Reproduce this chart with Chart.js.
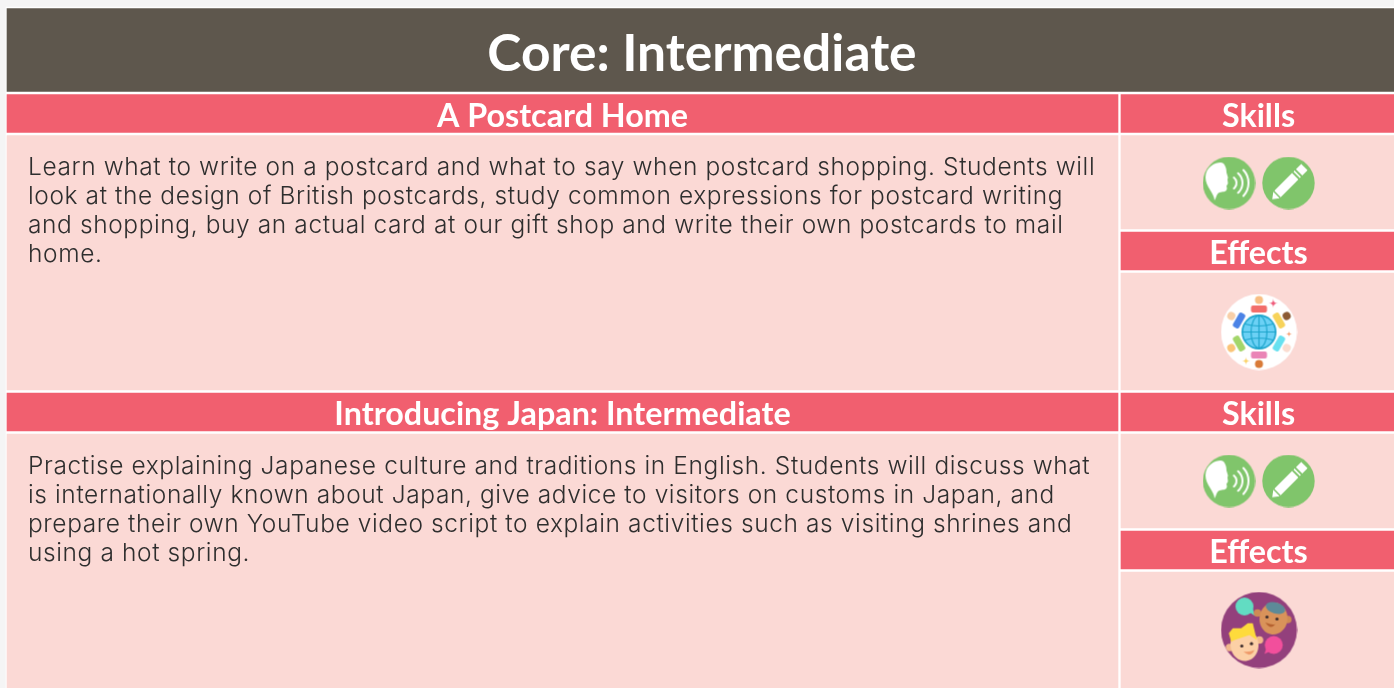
<!DOCTYPE html>
<html>
<head>
<meta charset="utf-8">
<title>Core: Intermediate</title>
<script src="https://cdn.jsdelivr.net/npm/chart.js@4/dist/chart.umd.min.js"></script>
<style>
    html, body { margin: 0; padding: 0; background: #f5f5f5; overflow: hidden; }
    #wrap { width: 1394px; height: 688px; }
</style>
</head>
<body>
<div id="wrap"><canvas id="board"></canvas></div>
<script>
/* ==================== Table content ==================== */
const pageTitle = 'Core: Intermediate';
const courseTitles = ['A Postcard Home', 'Introducing Japan: Intermediate'];
const sideTitles = ['Skills', 'Effects'];
const courseOneLines = [
    'Learn what to write on a postcard and what to say when postcard shopping. Students will',
    'look at the design of British postcards, study common expressions for postcard writing',
    'and shopping, buy an actual card at our gift shop and write their own postcards to mail',
    'home.'
];
const courseTwoLines = [
    'Practise explaining Japanese culture and traditions in English. Students will discuss what',
    'is internationally known about Japan, give advice to visitors on customs in Japan, and',
    'prepare their own YouTube video script to explain activities such as visiting shrines and',
    'using a hot spring.'
];

/* ==================== Layout (in page pixels) ==================== */
const COLORS = { title: '#5e574d', header: '#f15f6f', body: '#fbd9d5', green: '#80c56b', text: '#2e2e2e' };
const gridBand = [[7, 688]];
const titleBand = [[8.5, 91.5]];
const mainHeaderBands = [[94.5, 132.5], [393, 431]];
const mainBodyBands = [[135.5, 390], [434, 688]];
const sideHeaderBands = [[94.5, 132.5], [232, 270], [393, 431], [531, 569]];
const sideBodyBands = [[135.5, 229], [273, 390], [434, 528], [572, 688]];
const GRID_COL = { left: 6, right: 1394 };
const MAIN_COL = { left: 7, right: 1118 };
const SIDE_COL = { left: 1121, right: 1394 };
const FULL_COL = { left: 7, right: 1394 };

function bandDataset(bands, col, color, order = 2) {
    return {
        type: 'bar',
        data: bands.map(b => ({ x: (col.left + col.right) / 2, y: b })),
        backgroundColor: color,
        borderWidth: 0,
        grouped: false,
        barThickness: col.right - col.left,
        order: order
    };
}

/* ==================== Icons ==================== */
function makeCanvas(size, draw) {
    const c = document.createElement('canvas');
    c.width = size;
    c.height = size;
    const ctx = c.getContext('2d');
    ctx.lineCap = 'round';
    draw(ctx, size);
    return c;
}

function disc(ctx, x, y, r, color) {
    ctx.fillStyle = color;
    ctx.beginPath();
    ctx.arc(x, y, r, 0, Math.PI * 2);
    ctx.fill();
}

function sparkle(ctx, x, y, r, color) {
    ctx.fillStyle = color;
    ctx.beginPath();
    ctx.moveTo(x, y - r);
    ctx.quadraticCurveTo(x, y, x + r, y);
    ctx.quadraticCurveTo(x, y, x, y + r);
    ctx.quadraticCurveTo(x, y, x - r, y);
    ctx.quadraticCurveTo(x, y, x, y - r);
    ctx.fill();
}

function polygon(ctx, pts, color) {
    ctx.fillStyle = color;
    ctx.beginPath();
    pts.forEach((p, i) => (i ? ctx.lineTo(p[0], p[1]) : ctx.moveTo(p[0], p[1])));
    ctx.closePath();
    ctx.fill();
}

function speakIcon() {
    return makeCanvas(53, ctx => {
        disc(ctx, 26.5, 26.5, 26.2, COLORS.green);
        // head in profile
        ctx.fillStyle = '#fff';
        ctx.beginPath();
        ctx.moveTo(12, 44);
        ctx.bezierCurveTo(12, 37, 3, 30, 3, 21);
        ctx.bezierCurveTo(3, 10, 13, 6, 18, 6);
        ctx.bezierCurveTo(22, 6, 24, 11, 24, 16);
        ctx.lineTo(25.5, 21);
        ctx.lineTo(25, 23);
        ctx.lineTo(25.5, 27);
        ctx.lineTo(24, 29.5);
        ctx.lineTo(24.5, 32);
        ctx.bezierCurveTo(24, 36, 20, 35, 17, 36);
        ctx.bezierCurveTo(14, 37, 14, 41, 12, 44);
        ctx.fill();
        // sound waves
        ctx.strokeStyle = '#fff';
        ctx.lineWidth = 2;
        [[7, 0.9], [13, 0.85], [19, 0.75]].forEach(w => {
            ctx.beginPath();
            ctx.arc(27, 26.5, w[0], -w[1], w[1]);
            ctx.stroke();
        });
    });
}

function pencilIcon() {
    return makeCanvas(53, ctx => {
        disc(ctx, 26.5, 26.5, 26.2, COLORS.green);
        ctx.translate(26.5, 26.5);
        ctx.rotate(-Math.PI / 4);
        ctx.fillStyle = '#fff';
        // tip
        ctx.beginPath();
        ctx.moveTo(-23, 0);
        ctx.lineTo(-17, -4.5);
        ctx.lineTo(-17, 4.5);
        ctx.fill();
        // body
        ctx.fillRect(-15.5, -4.5, 25, 9);
        ctx.fillRect(11.5, -4.5, 1.6, 9);
        ctx.fillRect(15, -4.5, 7.5, 9);
    });
}

function globeIcon() {
    return makeCanvas(77, ctx => {
        disc(ctx, 38.5, 38.5, 38, '#ffffff');
        const c = 38.5;
        // people around the globe
        const people = [
            [-90, '#f26d6a', '#f8be83'],
            [-30, '#f7d35a', '#8c5a34'],
            [30, '#67e1f0', '#fbdcd0'],
            [90, '#ea84b6', '#d97b38'],
            [150, '#a3d66a', '#fac477'],
            [210, '#4b83e6', '#f8cfa8']
        ];
        people.forEach(p => {
            ctx.save();
            ctx.translate(c, c);
            ctx.rotate((p[0] + 90) * Math.PI / 180);
            ctx.fillStyle = p[1];
            ctx.beginPath();
            ctx.roundRect(-8, -26.5, 16, 7, 2);
            ctx.fill();
            disc(ctx, 0, -32, 4, p[2]);
            ctx.restore();
        });
        sparkle(ctx, 52.8, 9.8, 4.5, '#ef5b7a');
        sparkle(ctx, 68.5, 40.5, 3, '#f59b6b');
        sparkle(ctx, 25.5, 67.5, 4, '#fbd266');
        // globe
        disc(ctx, c, c, 17.5, '#1da5cc');
        disc(ctx, c, c, 15.8, '#6cd1f5');
        ctx.strokeStyle = '#1da5cc';
        ctx.lineWidth = 1.2;
        ctx.beginPath();
        ctx.moveTo(c - 16, c); ctx.lineTo(c + 16, c);
        ctx.moveTo(c, c - 16); ctx.lineTo(c, c + 16);
        ctx.moveTo(c - 14, c - 8); ctx.quadraticCurveTo(c, c - 4, c + 14, c - 8);
        ctx.moveTo(c - 14, c + 8); ctx.quadraticCurveTo(c, c + 4, c + 14, c + 8);
        ctx.stroke();
        ctx.beginPath();
        ctx.ellipse(c, c, 8, 16, 0, 0, Math.PI * 2);
        ctx.stroke();
    });
}

function facesIcon() {
    return makeCanvas(77, ctx => {
        disc(ctx, 38.5, 38.5, 38, '#93407c');
        ctx.save();
        ctx.beginPath();
        ctx.arc(38.5, 38.5, 38, 0, Math.PI * 2);
        ctx.clip();
        // speech bubbles
        disc(ctx, 24, 15, 9, '#62dcc2');
        polygon(ctx, [[28, 20], [34.5, 24.5], [32, 16]], '#62dcc2');
        disc(ctx, 53.3, 53.5, 9, '#f24f9c');
        polygon(ctx, [[49, 60], [44, 62.5], [46, 56]], '#f24f9c');
        // dark face
        disc(ctx, 37, 21.5, 3.8, '#cf8a54');
        disc(ctx, 67.3, 28, 3.8, '#cf8a54');
        ctx.fillStyle = '#d9935a';
        ctx.beginPath(); ctx.ellipse(53, 27, 14, 16, 0.1, 0, Math.PI * 2); ctx.fill();
        ctx.fillStyle = '#5d8a98';
        ctx.beginPath(); ctx.ellipse(55, 16.5, 10, 5.5, 0.3, 0, Math.PI * 2); ctx.fill();
        disc(ctx, 46.5, 25.5, 1.6, '#3a2a2a');
        disc(ctx, 56.5, 27.5, 1.6, '#3a2a2a');
        ctx.fillStyle = '#b5612f';
        ctx.beginPath(); ctx.moveTo(45, 31); ctx.quadraticCurveTo(52, 34, 55, 32.5); ctx.quadraticCurveTo(50, 39, 45, 31); ctx.fill();
        // light face
        disc(ctx, 9, 56, 3.8, '#f2b98c');
        disc(ctx, 39, 48.5, 3.8, '#f2b98c');
        ctx.fillStyle = '#fcd0a6';
        ctx.beginPath(); ctx.ellipse(24, 53.5, 14, 16, -0.1, 0, Math.PI * 2); ctx.fill();
        polygon(ctx, [[8.3, 41.8], [12.3, 36.8], [20.7, 36.8], [27.3, 31.8], [32.3, 31.8], [36.3, 48.5], [29, 43.5], [14, 48.5], [10.7, 50.2]], '#fedb3c');
        disc(ctx, 21.3, 54.5, 1.6, '#3a2a2a');
        disc(ctx, 31, 52.2, 1.6, '#3a2a2a');
        ctx.fillStyle = '#ef9a6a';
        ctx.beginPath(); ctx.moveTo(23, 60); ctx.quadraticCurveTo(29, 61, 34, 58.5); ctx.quadraticCurveTo(30, 67, 23, 60); ctx.fill();
        ctx.restore();
    });
}

const iconImages = [speakIcon(), pencilIcon(), globeIcon(), speakIcon(), pencilIcon(), facesIcon()];
const iconSpots = [
    { x: 1229, y: 183 }, { x: 1288.5, y: 183 }, { x: 1259, y: 332 },
    { x: 1229, y: 481 }, { x: 1288.5, y: 481 }, { x: 1259, y: 630 }
];

/* ==================== Text drawn through the scales ==================== */
const BODY_FONT = '300 24.5px Inter';
const textPlugin = {
    id: 'tableText',
    afterDatasetsDraw(chart) {
        const { ctx, scales: { x, y } } = chart;
        const mid = bands => y.getPixelForValue((bands[0] + bands[1]) / 2);
        const head = (label, centre, band, font) => {
            ctx.font = font;
            ctx.textAlign = 'center';
            ctx.textBaseline = 'alphabetic';
            ctx.fillStyle = '#ffffff';
            ctx.fillText(label, x.getPixelForValue(centre), mid(band) + 13);
        };
        ctx.save();
        ctx.font = '700 51.5px Lato';
        ctx.textAlign = 'center';
        ctx.fillStyle = '#ffffff';
        ctx.fillText(pageTitle, x.getPixelForValue(702), y.getPixelForValue(71));

        const h2 = '700 32.3px Lato';
        head(courseTitles[0], 562.5, mainHeaderBands[0], h2);
        head(courseTitles[1], 562.5, mainHeaderBands[1], h2);
        sideHeaderBands.forEach((b, i) => head(sideTitles[i % 2], 1258.5, b, h2));

        ctx.font = BODY_FONT;
        ctx.textAlign = 'left';
        ctx.fillStyle = COLORS.text;
        ctx.letterSpacing = '0.6px';
        [[courseOneLines, 175], [courseTwoLines, 474]].forEach(([lines, top]) => {
            lines.forEach((line, i) => {
                ctx.fillText(line, x.getPixelForValue(28), y.getPixelForValue(top + i * 28.9));
            });
        });
        ctx.restore();
    }
};

/* ==================== Chart ==================== */
document.fonts.load('700 31px Lato').then(() => document.fonts.load(BODY_FONT)).finally(() => {
    new Chart(document.getElementById('board'), {
        type: 'bar',
        data: {
            datasets: [
                bandDataset(gridBand, GRID_COL, '#ffffff', 3),
                bandDataset(titleBand, FULL_COL, COLORS.title),
                bandDataset(mainHeaderBands, MAIN_COL, COLORS.header),
                bandDataset(mainBodyBands, MAIN_COL, COLORS.body),
                bandDataset(sideHeaderBands, SIDE_COL, COLORS.header),
                bandDataset(sideBodyBands, SIDE_COL, COLORS.body),
                {
                    type: 'scatter',
                    data: iconSpots,
                    pointStyle: iconImages,
                    pointRadius: 26,
                    order: 1
                }
            ]
        },
        options: {
            responsive: true,
            maintainAspectRatio: false,
            animation: false,
            layout: { padding: 0, autoPadding: false },
            plugins: { legend: { display: false }, tooltip: { enabled: false } },
            scales: {
                x: { type: 'linear', min: 0, max: 1394, display: false, offset: false },
                y: { type: 'linear', min: 0, max: 688, reverse: true, display: false }
            }
        },
        plugins: [textPlugin]
    });
});
</script>
</body>
</html>
